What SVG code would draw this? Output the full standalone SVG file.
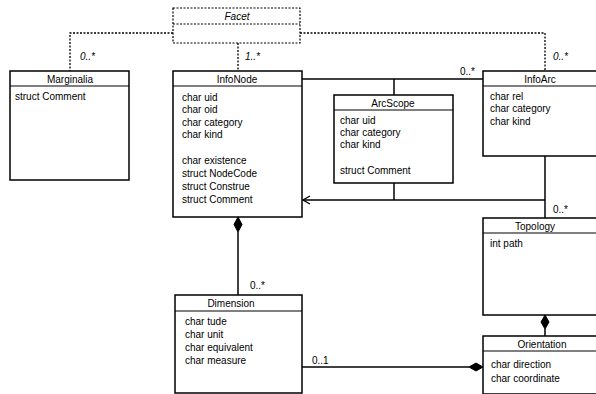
<svg xmlns="http://www.w3.org/2000/svg" width="596" height="394" viewBox="0 0 596 394">
<style>
.box{fill:#fff;stroke:#000;stroke-width:1.5}
.dbox{fill:#fff;stroke:#000;stroke-width:1.2;stroke-dasharray:2,1.5}
.sep{stroke:#000;stroke-width:1.2}
.ln{fill:none;stroke:#000;stroke-width:1.5}
.dot{fill:none;stroke:#000;stroke-width:1.3;stroke-dasharray:2,1.5}
text{font-family:"Liberation Sans",Arial,sans-serif;font-size:10px;fill:#000}
.t{text-anchor:middle}
.i{font-style:italic}
</style>
<defs>
<marker id="open" markerWidth="10" markerHeight="10" refX="8" refY="5" orient="auto" markerUnits="userSpaceOnUse">
<path d="M1,1 L8,5 L1,9" fill="none" stroke="#000" stroke-width="1.4"/>
</marker>
</defs>
<g id="connectors">
<path class="dot" d="M173,33 H70 V71"/>
<path class="dot" d="M238,43 V71"/>
<path class="dot" d="M300,33 H545 V71"/>
<path class="ln" d="M302,79 H483"/>
<path class="ln" d="M394,79 V95"/>
<path class="ln" d="M545,156 V218"/>
<path class="ln" d="M545,200 H303" marker-end="url(#open)"/>
<path class="ln" d="M394,183 V200"/>
<path class="ln" d="M238,232 V295"/>
<polygon points="238,217 242,224.5 238,232 234,224.5" fill="#000" stroke="#000"/>
<path class="ln" d="M545,329 V336"/>
<polygon points="545,315 549,322 545,329 541,322" fill="#000" stroke="#000"/>
<path class="ln" d="M302,367 H469"/>
<polygon points="483,367 476,371 469,367 476,363" fill="#000" stroke="#000"/>
<text x="80" y="60" class="i">0..*</text>
<text x="245" y="60" class="i">1..*</text>
<text x="553" y="60" class="i">0..*</text>
<text x="460" y="75">0..*</text>
<text x="553" y="213">0..*</text>
<text x="250" y="289">0..*</text>
<text x="312" y="364">0..1</text>
</g>
<g id="Facet">
<rect class="dbox" x="173" y="8" width="127" height="35"/>
<line x1="173" y1="24" x2="300" y2="24" class="sep" stroke-dasharray="2,1.5"/>
<text x="237" y="20" class="t i">Facet</text>
</g>
<g id="Marginalia">
<rect class="box" x="10" y="71" width="119" height="109"/>
<line class="sep" x1="10" y1="86" x2="129" y2="86"/>
<text x="70" y="83" class="t">Marginalia</text>
<text x="15" y="100">struct Comment</text>
</g>
<g id="InfoNode">
<rect class="box" x="173" y="71" width="129" height="146"/>
<line class="sep" x1="173" y1="86" x2="302" y2="86"/>
<text x="237" y="83" class="t">InfoNode</text>
<text x="182" y="101">char uid</text>
<text x="182" y="113">char oid</text>
<text x="182" y="126">char category</text>
<text x="182" y="138">char kind</text>
<text x="182" y="164">char existence</text>
<text x="182" y="177">struct NodeCode</text>
<text x="182" y="190">struct Construe</text>
<text x="182" y="203">struct Comment</text>
</g>
<g id="ArcScope">
<rect class="box" x="334" y="95" width="119" height="88"/>
<line class="sep" x1="334" y1="110" x2="453" y2="110"/>
<text x="393" y="107" class="t">ArcScope</text>
<text x="340" y="124">char uid</text>
<text x="340" y="136">char category</text>
<text x="340" y="148">char kind</text>
<text x="340" y="174">struct Comment</text>
</g>
<g id="InfoArc">
<rect class="box" x="483" y="71" width="114" height="85"/>
<line class="sep" x1="483" y1="86" x2="597" y2="86"/>
<text x="540" y="83" class="t">InfoArc</text>
<text x="490" y="100">char rel</text>
<text x="490" y="112">char category</text>
<text x="490" y="125">char kind</text>
</g>
<g id="Topology">
<rect class="box" x="483" y="218" width="114" height="97"/>
<line class="sep" x1="483" y1="233" x2="597" y2="233"/>
<text x="535" y="230" class="t">Topology</text>
<text x="490" y="247">int path</text>
</g>
<g id="Orientation">
<rect class="box" x="483" y="336" width="114" height="58"/>
<line class="sep" x1="483" y1="351" x2="597" y2="351"/>
<text x="542" y="348" class="t">Orientation</text>
<text x="491" y="368">char direction</text>
<text x="491" y="382">char coordinate</text>
</g>
<g id="Dimension">
<rect class="box" x="175" y="295" width="127" height="98"/>
<line class="sep" x1="175" y1="311" x2="302" y2="311"/>
<text x="231" y="307" class="t">Dimension</text>
<text x="185" y="325">char tude</text>
<text x="185" y="338">char unit</text>
<text x="185" y="351">char equivalent</text>
<text x="185" y="364">char measure</text>
</g>
</svg>
